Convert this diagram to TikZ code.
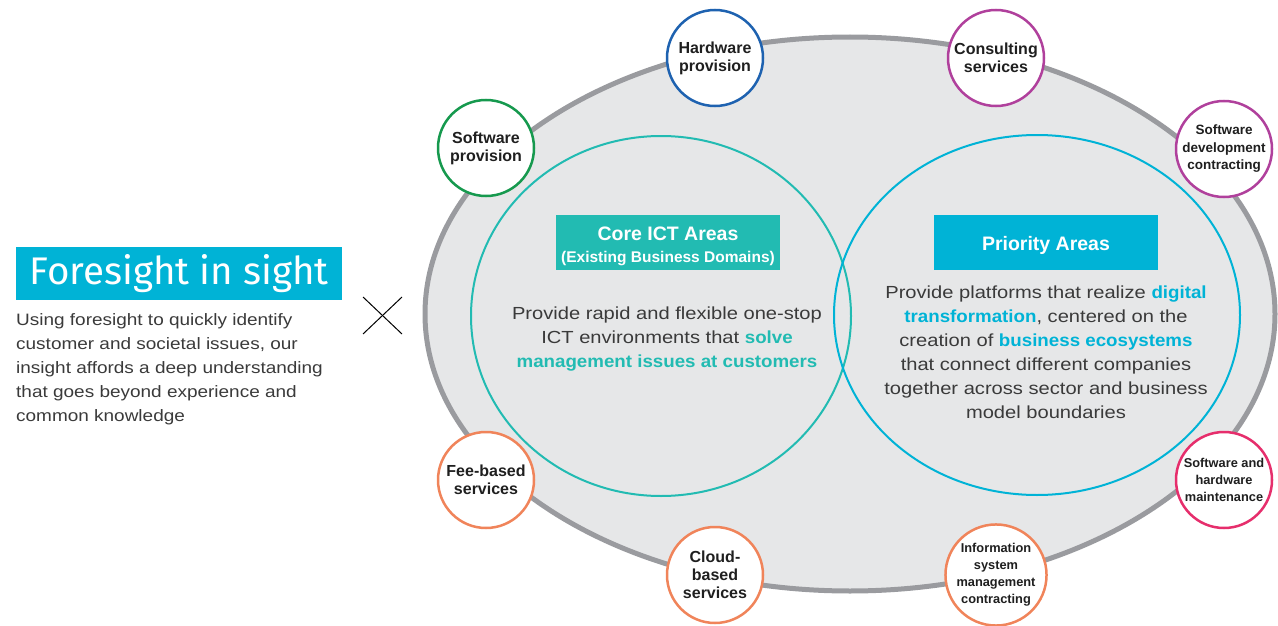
\documentclass[tikz,border=0pt]{standalone}
\usepackage{fontspec}
\setmainfont{Liberation Sans}
\newfontfamily\widefont{Liberation Sans}[FakeStretch=1.15, BoldFeatures={FakeStretch=1.07}]
\newfontfamily\titlefont{Fira Sans}
\definecolor{ringgray}{HTML}{9A9B9F}
\definecolor{areagray}{HTML}{E6E7E8}
\definecolor{coreteal}{HTML}{22BBB2}
\definecolor{prioblue}{HTML}{00B3D6}
\definecolor{bodytext}{HTML}{3A3A3A}
\definecolor{hwblue}{HTML}{1E62B0}
\definecolor{swgreen}{HTML}{16994E}
\definecolor{svcpurple}{HTML}{B0409C}
\definecolor{feeorange}{HTML}{F0845A}
\definecolor{mntpink}{HTML}{E62E6C}
\begin{document}
\begin{tikzpicture}[x=1pt, y=-1pt,
	offer/.style={draw, circle, fill=white, line width=2.5pt, minimum size=96pt, inner sep=0pt, align=center, text=black!88, font=\fontsize{16}{18}\selectfont\bfseries},
	smalloffer/.style={offer, font=\fontsize{12.8}{17}\selectfont\bfseries},
	areabox/.style={rectangle, minimum width=224pt, minimum height=55pt, inner sep=0pt},
	headtext/.style={inner sep=0pt, align=center, text=white, font=\fontsize{19.5}{22}\selectfont\bfseries},
	bodynode/.style={align=center, inner sep=0pt, text=bodytext, font=\widefont\fontsize{17.5}{24}\selectfont}]

	\useasboundingbox (0,0) rectangle (1278,626);

	% outer business field
	\draw[line width=5pt, draw=ringgray, fill=areagray] (850,314) ellipse [x radius=425, y radius=277];

	% the two overlapping areas
	\draw[line width=2pt, draw=coreteal] (661,316) ellipse [x radius=190, y radius=180];
	\draw[line width=2pt, draw=prioblue] (1037,315) ellipse [x radius=203, y radius=180];

	% offerings around the ring
	\node (HW) at (715,58) [offer, draw=hwblue]{Hardware\\provision};
	\node (SW) at (486,148) [offer, draw=swgreen]{Software\\provision};
	\node (CS) at (996,58) [offer, draw=svcpurple]{Consulting\\services};
	\node (SD) at (1224,149) [smalloffer, draw=svcpurple, font=\fontsize{13.5}{17.5}\selectfont\bfseries]{Software\\development\\contracting};
	\node (FB) at (486,480) [offer, draw=feeorange]{Fee-based\\services};
	\node (CB) at (715,575) [offer, draw=feeorange]{Cloud-\\based\\services};
	\node (IS) at (996,575) [smalloffer, draw=feeorange]{Information\\system\\management\\contracting};
	\node (MT) at (1224,480) [smalloffer, draw=mntpink]{Software and\\hardware\\maintenance};

	% area headings
	\node (Core) at (668,242.5) [areabox, fill=coreteal]{};
	\node (CoreHead) at (Core.center) [headtext, yshift=-4pt]{Core ICT Areas\\{\fontsize{15.5}{17}\selectfont (Existing Business Domains)}};
	\node (Prio) at (1046,242.5) [areabox, fill=prioblue]{};
	\node (PrioHead) at (Prio.center) [headtext, yshift=-2.5pt]{Priority Areas};

	\node (CoreText) at (667,339) [bodynode]{Provide rapid and flexible one-stop\\ICT environments that {\bfseries\color{coreteal}solve}\\{\bfseries\color{coreteal}management issues at customers}};
	\node (PrioText) at (1046,352) [bodynode]{Provide platforms that realize {\bfseries\color{prioblue}digital}\\{\bfseries\color{prioblue}transformation}, centered on the\\creation of {\bfseries\color{prioblue}business ecosystems}\\that connect different companies\\together across sector and business\\model boundaries};

	% left hand title and note
	\node (Title) at (179,273.5) [rectangle, fill=prioblue, minimum width=326pt, minimum height=53pt, inner sep=0pt, text=white, font=\titlefont\fontsize{38.5}{40}\selectfont]{Foresight in sight};
	\node (Note) at (16,369) [anchor=west, align=left, inner sep=0pt, text=bodytext, font=\widefont\fontsize{16.5}{24}\selectfont]{Using foresight to quickly identify\\customer and societal issues, our\\insight affords a deep understanding\\that goes beyond experience and\\common knowledge};

	% the cross between the two halves
	\coordinate (XA) at (363,297);
	\coordinate (XB) at (402,334);
	\coordinate (XC) at (363,334);
	\coordinate (XD) at (402,297);
	\draw[-, line width=1pt] (XA) -- (XB);
	\draw[-, line width=1pt] (XC) -- (XD);

\end{tikzpicture}
\end{document}
